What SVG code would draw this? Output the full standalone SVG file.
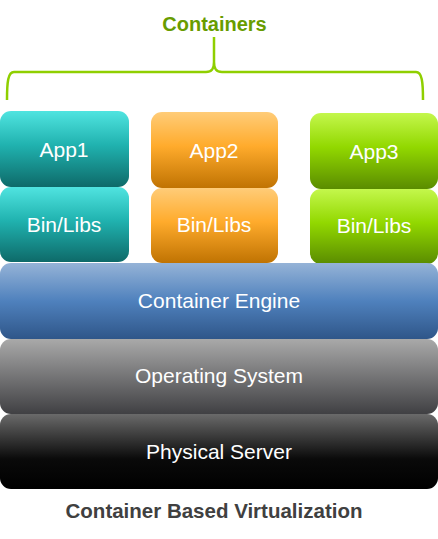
<svg xmlns="http://www.w3.org/2000/svg" width="438" height="539" viewBox="0 0 438 539">
<defs>
<linearGradient id="gTeal" x1="0" y1="0" x2="0" y2="1"><stop offset="0" stop-color="#50e4e0"/><stop offset="0.45" stop-color="#20b2af"/><stop offset="1" stop-color="#0e6a69"/></linearGradient>
<linearGradient id="gOrange" x1="0" y1="0" x2="0" y2="1"><stop offset="0" stop-color="#ffcc78"/><stop offset="0.45" stop-color="#ffab2c"/><stop offset="1" stop-color="#c07302"/></linearGradient>
<linearGradient id="gGreen" x1="0" y1="0" x2="0" y2="1"><stop offset="0" stop-color="#c4f74c"/><stop offset="0.45" stop-color="#92d800"/><stop offset="1" stop-color="#5a8c00"/></linearGradient>
<linearGradient id="gBlue" x1="0" y1="0" x2="0" y2="1"><stop offset="0" stop-color="#95b3d7"/><stop offset="0.5" stop-color="#4f81bd"/><stop offset="1" stop-color="#2f5689"/></linearGradient>
<linearGradient id="gGray" x1="0" y1="0" x2="0" y2="1"><stop offset="0" stop-color="#a9a9a9"/><stop offset="1" stop-color="#404043"/></linearGradient>
<linearGradient id="gBlack" x1="0" y1="0" x2="0" y2="1"><stop offset="0" stop-color="#6a6a6a"/><stop offset="0.6" stop-color="#0a0a0a"/><stop offset="1" stop-color="#000000"/></linearGradient>
</defs>
<style>
.lbl{font-family:"Liberation Sans",Arial,sans-serif;font-size:21px;fill:#ffffff;text-anchor:middle}
.title{font-family:"Liberation Sans",Arial,sans-serif;font-weight:bold;text-anchor:middle}
.brace{fill:none;stroke:#8fcf00;stroke-width:2.5}
</style>
<rect width="438" height="539" fill="#ffffff"/>
<g id="title-containers">
<text class="title" x="214.5" y="31" font-size="20" fill="#689c00">Containers</text>
</g>
<g id="connectors">
<path class="brace" d="M7,100 C7,82 8,72 14,72 L206,72 C212,72 214,69 214,62 L214,37 M214,62 C214,69 216,72 222,72 L416,72 C422,72 423,82 423,100"/>
</g>
<g id="app1"><rect x="0" y="111" width="129" height="76" rx="11" fill="url(#gTeal)"/><text class="lbl" x="64" y="157">App1</text></g>
<g id="bin1"><rect x="0" y="187" width="129" height="75" rx="11" fill="url(#gTeal)"/><text class="lbl" x="64" y="232">Bin/Libs</text></g>
<g id="app2"><rect x="151" y="112" width="127" height="76" rx="11" fill="url(#gOrange)"/><text class="lbl" x="214" y="158">App2</text></g>
<g id="bin2"><rect x="151" y="188" width="127" height="75" rx="11" fill="url(#gOrange)"/><text class="lbl" x="214" y="232">Bin/Libs</text></g>
<g id="app3"><rect x="310" y="113" width="128" height="76" rx="11" fill="url(#gGreen)"/><text class="lbl" x="374" y="159">App3</text></g>
<g id="bin3"><rect x="310" y="189" width="128" height="75" rx="11" fill="url(#gGreen)"/><text class="lbl" x="374" y="233">Bin/Libs</text></g>
<g id="engine"><rect x="0" y="263" width="438" height="76" rx="11" fill="url(#gBlue)"/><text class="lbl" x="219" y="308">Container Engine</text></g>
<g id="os"><rect x="0" y="339" width="438" height="75" rx="11" fill="url(#gGray)"/><text class="lbl" x="219" y="383">Operating System</text></g>
<g id="physical"><rect x="0" y="414" width="438" height="75" rx="11" fill="url(#gBlack)"/><text class="lbl" x="219" y="459">Physical Server</text></g>
<g id="caption"><text class="title" x="214" y="518" font-size="20.5" fill="#404040">Container Based Virtualization</text></g>
</svg>
